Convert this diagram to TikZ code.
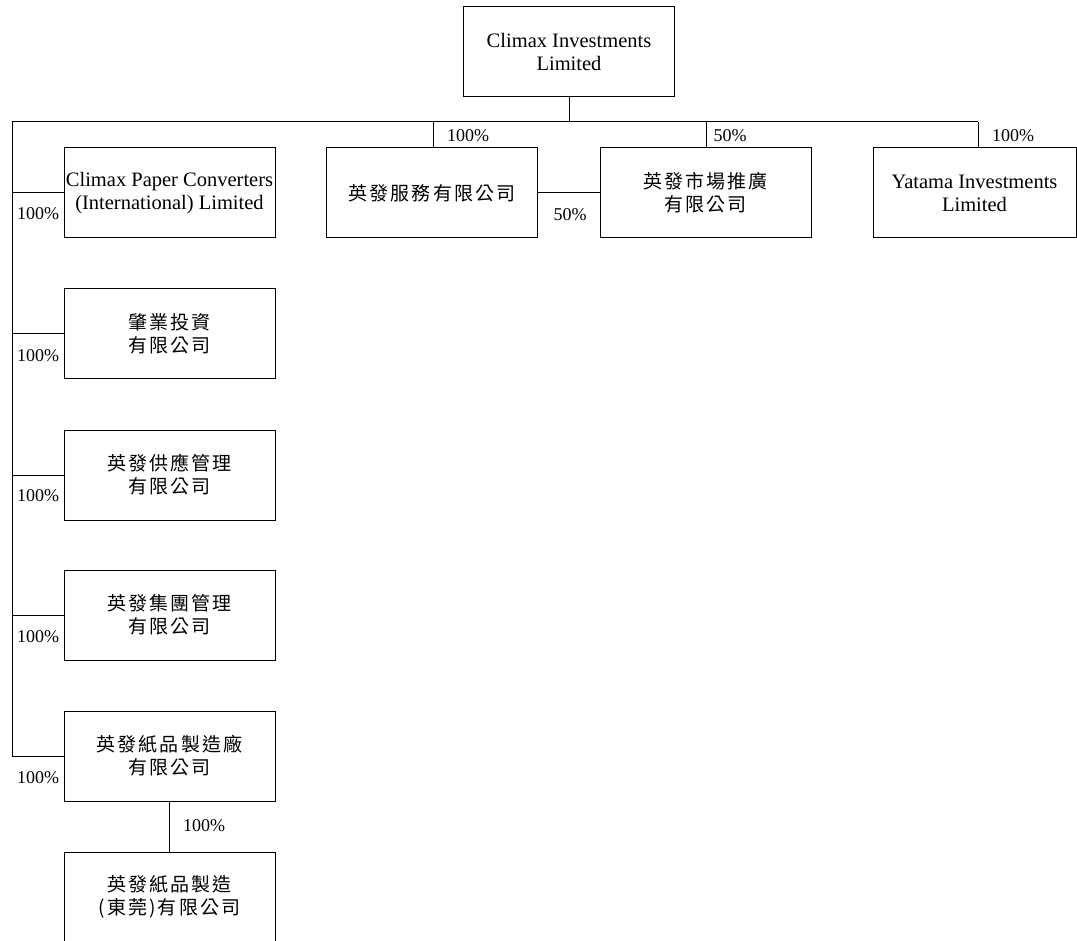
\documentclass[tikz,border=0pt]{standalone}
\usepackage{fontspec}
\setmainfont{Liberation Serif}
\newfontfamily\cjk{Noto Sans CJK TC}
\tikzset{
  ent/.style={draw, line width=1pt, minimum width=211pt, minimum height=90pt, inner sep=0pt, align=center,
    font=\fontsize{20.5pt}{23pt}\selectfont},
  link/.style={line width=1pt},
  pct/.style={font=\fontsize{18pt}{22pt}\selectfont, inner sep=0pt}
}
\newcommand{\ck}[1]{{\cjk\fontsize{19pt}{23pt}\selectfont\addfontfeature{LetterSpace=11}#1}}
\begin{document}
\begin{tikzpicture}[x=1pt,y=-1pt]
\useasboundingbox (0,0) rectangle (1077,941);
\clip (0,0) rectangle (1077,941);
% top
\node[ent] (top) at (569,52) {Climax Investments\\Limited};
\coordinate (bus) at (569,122);
\coordinate (busL) at (12,122);
\coordinate (busR) at (978,122);
% first row
\node[ent] (cpc) at (169.5,193) {Climax Paper Converters\\(International) Limited};
\node[ent] (svc) at (432,193) {\ck{英發服務有限公司}};
\node[ent] (mkt) at (705.5,193) {\ck{英發市場推廣}\\\ck{有限公司}};
\node[ent, minimum width=203pt] (yat) at (974.5,193) {Yatama Investments\\Limited};
% left column
\node[ent] (zy) at (169.5,334) {\ck{肇業投資}\\\ck{有限公司}};
\node[ent] (gy) at (169.5,475) {\ck{英發供應管理}\\\ck{有限公司}};
\node[ent] (jt) at (169.5,615) {\ck{英發集團管理}\\\ck{有限公司}};
\node[ent] (zp) at (169.5,756) {\ck{英發紙品製造廠}\\\ck{有限公司}};
\node[ent] (dg) at (169.5,897) {\ck{英發紙品製造}\\\ck{(東莞)有限公司}};
% connectors
\draw[link] (top.south) -- (bus);
\draw[link] (busL) -- (busR);
\coordinate (s1) at (433,122);
\coordinate (s2) at (706,122);
\draw[link] (s1) -- (s1 |- svc.north);
\draw[link] (s2) -- (s2 |- mkt.north);
\draw[link] (busR) -- (busR |- yat.north);
\draw[link] (svc.east) -- (mkt.west);
\coordinate (spineEnd) at (12,756);
\draw[link] (busL) -- (spineEnd);
\draw[link] (busL |- cpc.west) -- (cpc.west);
\draw[link] (busL |- zy.west) -- (zy.west);
\draw[link] (busL |- gy.west) -- (gy.west);
\draw[link] (busL |- jt.west) -- (jt.west);
\draw[link] (spineEnd) -- (zp.west);
\draw[link] (zp.south) -- (dg.north);
% labels
\node[pct] (p1) at (468,136) {100\%};
\node[pct] (p2) at (730,136) {50\%};
\node[pct] (p3) at (1013,136) {100\%};
\node[pct] (p4) at (570,215) {50\%};
\node[pct] (l1) at (38,214) {100\%};
\node[pct] (l2) at (38,356) {100\%};
\node[pct] (l3) at (38,496) {100\%};
\node[pct] (l4) at (38,637) {100\%};
\node[pct] (l5) at (38,778) {100\%};
\node[pct] (p5) at (204,826) {100\%};
\end{tikzpicture}
\end{document}
